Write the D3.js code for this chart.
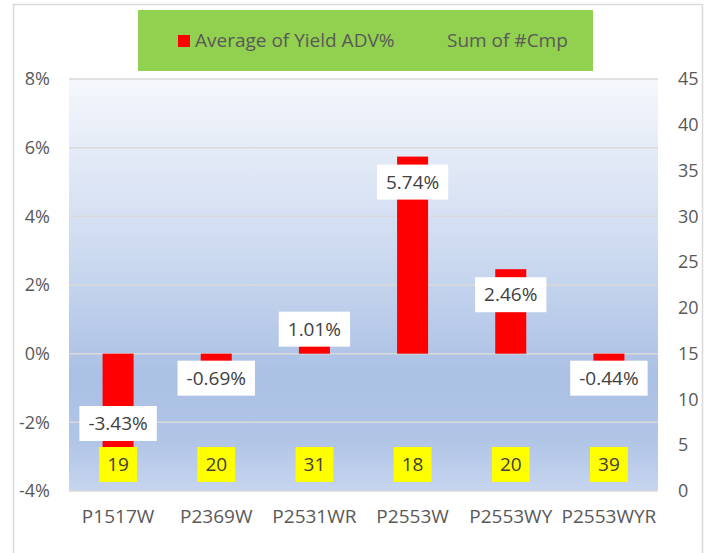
<!DOCTYPE html>
<html>
<head>
<meta charset="utf-8">
<script src="https://cdn.jsdelivr.net/npm/d3@7"></script>
<style>
  body { margin: 0; background: #fff; }
  text { font-family: "Open Sans", "Noto Sans", sans-serif; }
</style>
</head>
<body>
<div id="chart"></div>
<script>
// chart data
var categories = ['P1517W', 'P2369W', 'P2531WR', 'P2553W', 'P2553WY', 'P2553WYR'];
var yieldAdv = [-3.43, -0.69, 1.01, 5.74, 2.46, -0.44];   // Average of Yield ADV% (in %)
var cmpSum = [19, 20, 31, 18, 20, 39];                    // Sum of #Cmp
var leftTicks = [-4, -2, 0, 2, 4, 6, 8];
var rightTicks = [0, 5, 10, 15, 20, 25, 30, 35, 40, 45];
var legendNames = ['Average of Yield ADV%', 'Sum of #Cmp'];

var width = 711, height = 553;
var plot = { left: 69, right: 658, top: 79, bottom: 491 };

var svg = d3.select('#chart').append('svg')
    .attr('width', width)
    .attr('height', height);

// outer chart border (bottom edge falls outside the picture)
svg.append('rect')
    .attr('x', 13.5).attr('y', 4.5)
    .attr('width', 689).attr('height', 560)
    .attr('fill', '#fff')
    .attr('stroke', '#d9d9d9')
    .attr('stroke-width', 1.5);

// plot area gradient
var grad = svg.append('defs').append('linearGradient')
    .attr('id', 'bg')
    .attr('x1', 0).attr('y1', 0).attr('x2', 0).attr('y2', 1);
grad.append('stop').attr('offset', '0%').attr('stop-color', '#f5f7fc');
grad.append('stop').attr('offset', '45%').attr('stop-color', '#cad8ef');
grad.append('stop').attr('offset', '72%').attr('stop-color', '#aac0e4');
grad.append('stop').attr('offset', '88%').attr('stop-color', '#b1c5e7');
grad.append('stop').attr('offset', '100%').attr('stop-color', '#c6d5ef');

svg.append('rect')
    .attr('x', plot.left).attr('y', plot.top)
    .attr('width', plot.right - plot.left)
    .attr('height', plot.bottom - plot.top)
    .attr('fill', 'url(#bg)');

var x = d3.scaleBand()
    .domain(categories)
    .range([plot.left, plot.right])
    .padding(0);

var yL = d3.scaleLinear().domain([-4, 8]).range([plot.bottom, plot.top]);
var yR = d3.scaleLinear().domain([0, 45]).range([plot.bottom, plot.top]);

// gridlines
svg.selectAll('.grid')
    .data(leftTicks)
    .enter().append('line')
    .attr('class', 'grid')
    .attr('x1', plot.left).attr('x2', plot.right)
    .attr('y1', function (d) { return yL(d); })
    .attr('y2', function (d) { return yL(d); })
    .attr('stroke', '#d9d9d9')
    .attr('stroke-width', 1.5);

// left axis
var leftAxis = svg.append('g')
    .attr('transform', 'translate(50,0)')
    .call(d3.axisLeft(yL).tickValues(leftTicks).tickSize(0).tickPadding(0)
        .tickFormat(function (d) { return d + '%'; }));
leftAxis.select('.domain').remove();
leftAxis.selectAll('text')
    .attr('fill', '#595959')
    .style('font-size', '18px')
    .style('font-family', '"Open Sans", sans-serif');

// right axis
var rightAxis = svg.append('g')
    .attr('transform', 'translate(678,0)')
    .call(d3.axisRight(yR).tickValues(rightTicks).tickSize(0).tickPadding(0));
rightAxis.select('.domain').remove();
rightAxis.selectAll('text')
    .attr('fill', '#595959')
    .style('font-size', '18px')
    .style('font-family', '"Open Sans", sans-serif');

// category axis
var catAxis = svg.append('g')
    .attr('transform', 'translate(0,' + plot.bottom + ')')
    .call(d3.axisBottom(x).tickSize(0).tickPadding(0));
catAxis.select('.domain').remove();
catAxis.selectAll('text')
    .attr('dy', null)
    .attr('y', 32)
    .attr('fill', '#595959')
    .style('font-size', '19px')
    .style('font-family', '"Open Sans", sans-serif');

// red bars
var barW = x.bandwidth() * 0.316;
var rows = categories.map(function (c, i) {
    return { cat: c, v: yieldAdv[i], n: cmpSum[i] };
});

svg.selectAll('.bar')
    .data(rows)
    .enter().append('rect')
    .attr('class', 'bar')
    .attr('x', function (d) { return x(d.cat) + x.bandwidth() / 2 - barW / 2; })
    .attr('width', barW)
    .attr('y', function (d) { return Math.min(yL(d.v), yL(0)); })
    .attr('height', function (d) { return Math.abs(yL(d.v) - yL(0)); })
    .attr('fill', '#ff0000');

// yellow labels: inside base of the (invisible) secondary series
var boxH = 35;
var yellowBottom = yR(0) - 9;
var yellowTop = yellowBottom - boxH;

var yLab = svg.selectAll('.ylab')
    .data(rows)
    .enter().append('g')
    .attr('class', 'ylab');
yLab.append('rect').attr('fill', '#ffff00');
yLab.append('text')
    .attr('text-anchor', 'middle')
    .attr('fill', '#404040')
    .style('font-size', '19px')
    .attr('x', function (d) { return x(d.cat) + x.bandwidth() / 2; })
    .attr('y', yellowTop + boxH / 2 + 6.5)
    .text(function (d) { return d.n; });
yLab.each(function () {
    var g = d3.select(this);
    var t = g.select('text');
    var w = t.node().getComputedTextLength() + 16;
    g.select('rect')
        .attr('x', +t.attr('x') - w / 2)
        .attr('y', yellowTop)
        .attr('width', w)
        .attr('height', boxH);
});

// value labels: inside end, kept clear of the zero line and yellow labels
function labelTop(v) {
    var zero = yL(0), top, bottom;
    if (v >= 0) {
        top = yL(v) + 8;
        bottom = top + boxH;
        if (bottom > zero - 7) top = zero - 7 - boxH;
    } else {
        bottom = yL(v) - 8;
        top = bottom - boxH;
        if (top < zero + 7) top = zero + 7;
        if (top + boxH > yellowTop - 6) top = yellowTop - 6 - boxH;
    }
    return top;
}

var vLab = svg.selectAll('.vlab')
    .data(rows)
    .enter().append('g')
    .attr('class', 'vlab');
vLab.append('rect').attr('fill', '#ffffff');
vLab.append('text')
    .attr('text-anchor', 'middle')
    .attr('fill', '#404040')
    .style('font-size', '19px')
    .attr('x', function (d) { return x(d.cat) + x.bandwidth() / 2; })
    .attr('y', function (d) { return labelTop(d.v) + boxH / 2 + 6.5; })
    .text(function (d) { return d.v.toFixed(2) + '%'; });
vLab.each(function (d) {
    var g = d3.select(this);
    var t = g.select('text');
    var w = t.node().getComputedTextLength() + 18;
    g.select('rect')
        .attr('x', +t.attr('x') - w / 2)
        .attr('y', labelTop(d.v))
        .attr('width', w)
        .attr('height', boxH);
});

// legend
var legend = svg.append('g');
legend.append('rect')
    .attr('x', 138).attr('y', 10)
    .attr('width', 455).attr('height', 61)
    .attr('fill', '#92d050');
legend.append('rect')
    .attr('x', 178).attr('y', 35)
    .attr('width', 12).attr('height', 12)
    .attr('fill', '#ff0000');
legend.selectAll('.ltext')
    .data(legendNames)
    .enter().append('text')
    .attr('class', 'ltext')
    .attr('x', function (d, i) { return i === 0 ? 195 : 447; })
    .attr('y', 47)
    .attr('fill', '#595959')
    .style('font-size', '19px')
    .text(function (d) { return d; });
</script>
</body>
</html>
